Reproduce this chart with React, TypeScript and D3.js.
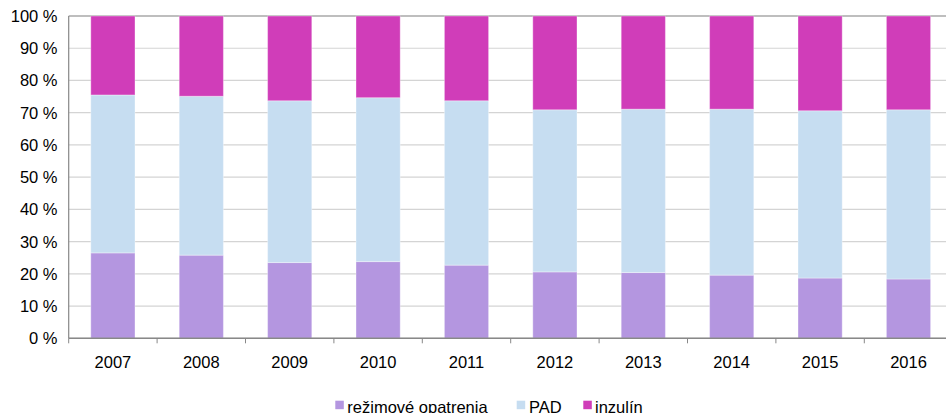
import React from "react";
import * as d3 from "d3";

const years = ["2007", "2008", "2009", "2010", "2011", "2012", "2013", "2014", "2015", "2016"];
const rezimove = [26.5, 25.8, 23.5, 23.8, 22.7, 20.6, 20.4, 19.6, 18.7, 18.4];
const pad = [49.0, 49.3, 50.2, 50.85, 51.0, 50.3, 50.7, 51.5, 51.9, 52.5];
const inzulin = [24.5, 24.9, 26.3, 25.35, 26.3, 29.1, 28.9, 28.9, 29.4, 29.1];
const seriesNames = ["režimové opatrenia", "PAD", "inzulín"];
const seriesColors = ["#b496e0", "#c6ddf1", "#d03db9"];
const yTicks = [0, 10, 20, 30, 40, 50, 60, 70, 80, 90, 100];

const W = 946;
const H = 413;
const left = 68.7;
const right = 952.7;
const top = 16;
const bottom = 338.3;
const font = "'Liberation Sans', Arial, sans-serif";

export default function App() {
  const x = d3.scaleBand<string>().domain(years).range([left, right]).paddingInner(0.5).paddingOuter(0.25);
  const y = d3.scaleLinear().domain([0, 100]).range([bottom, top]);
  const rows = years.map((yr, i) => ({ year: yr, a: rezimove[i], b: pad[i], c: inzulin[i] }));
  const stack = d3.stack<any>().keys(["a", "b", "c"]);
  const layers = stack(rows);
  const step = x.step();
  const boundaries = d3.range(years.length + 1).map((i) => left + i * step);

  const legendItems = [
    { sx: 335.3, tx: 347.3 },
    { sx: 516.7, tx: 529 },
    { sx: 583.3, tx: 595 },
  ];

  return (
    <svg width={W} height={H} style={{ position: "absolute", left: 0, top: 0, background: "#fff" }}>
      {yTicks.map((t) => (
        <line key={"g" + t} x1={left} x2={right} y1={y(t)} y2={y(t)} stroke={t === 100 ? "#a8a8a8" : "#d4d4d4"} strokeWidth={t === 100 ? 1.5 : 1.2} />
      ))}
      {layers.map((layer, li) => (
        <g key={li}>
          {layer.map((d: any, i: number) => (
            <rect
              key={i}
              x={x(years[i])}
              width={x.bandwidth()}
              y={y(d[1])}
              height={y(d[0]) - y(d[1])}
              fill={seriesColors[li]}
              stroke="#ffffff"
              strokeOpacity={0.35}
              strokeWidth={1}
            />
          ))}
        </g>
      ))}
      <line x1={left} x2={left} y1={top} y2={bottom} stroke="#888" strokeWidth={1.2} />
      <line x1={left} x2={right} y1={bottom} y2={bottom} stroke="#888" strokeWidth={1.6} />
      {boundaries.map((bx, i) => (
        <line key={"t" + i} x1={bx} x2={bx} y1={bottom} y2={bottom + 5} stroke="#888" strokeWidth={1} />
      ))}
      {yTicks.map((t) => (
        <text key={"yl" + t} x={57.5} y={y(t)} dy="0.36em" textAnchor="end" fontFamily={font} fontSize={16.5} fill="#000">
          {t} %
        </text>
      ))}
      {years.map((yr) => (
        <text key={"xl" + yr} x={(x(yr) as number) + x.bandwidth() / 2} y={367.8} textAnchor="middle" fontFamily={font} fontSize={16.5} fill="#000">
          {yr}
        </text>
      ))}
      {seriesNames.map((n, i) => (
        <g key={"lg" + i}>
          <rect x={legendItems[i].sx} y={400.7} width={8.5} height={8.5} fill={seriesColors[i]} />
          <text x={legendItems[i].tx} y={412.5} fontFamily={font} fontSize={16.5} fill="#000">
            {n}
          </text>
        </g>
      ))}
    </svg>
  );
}
